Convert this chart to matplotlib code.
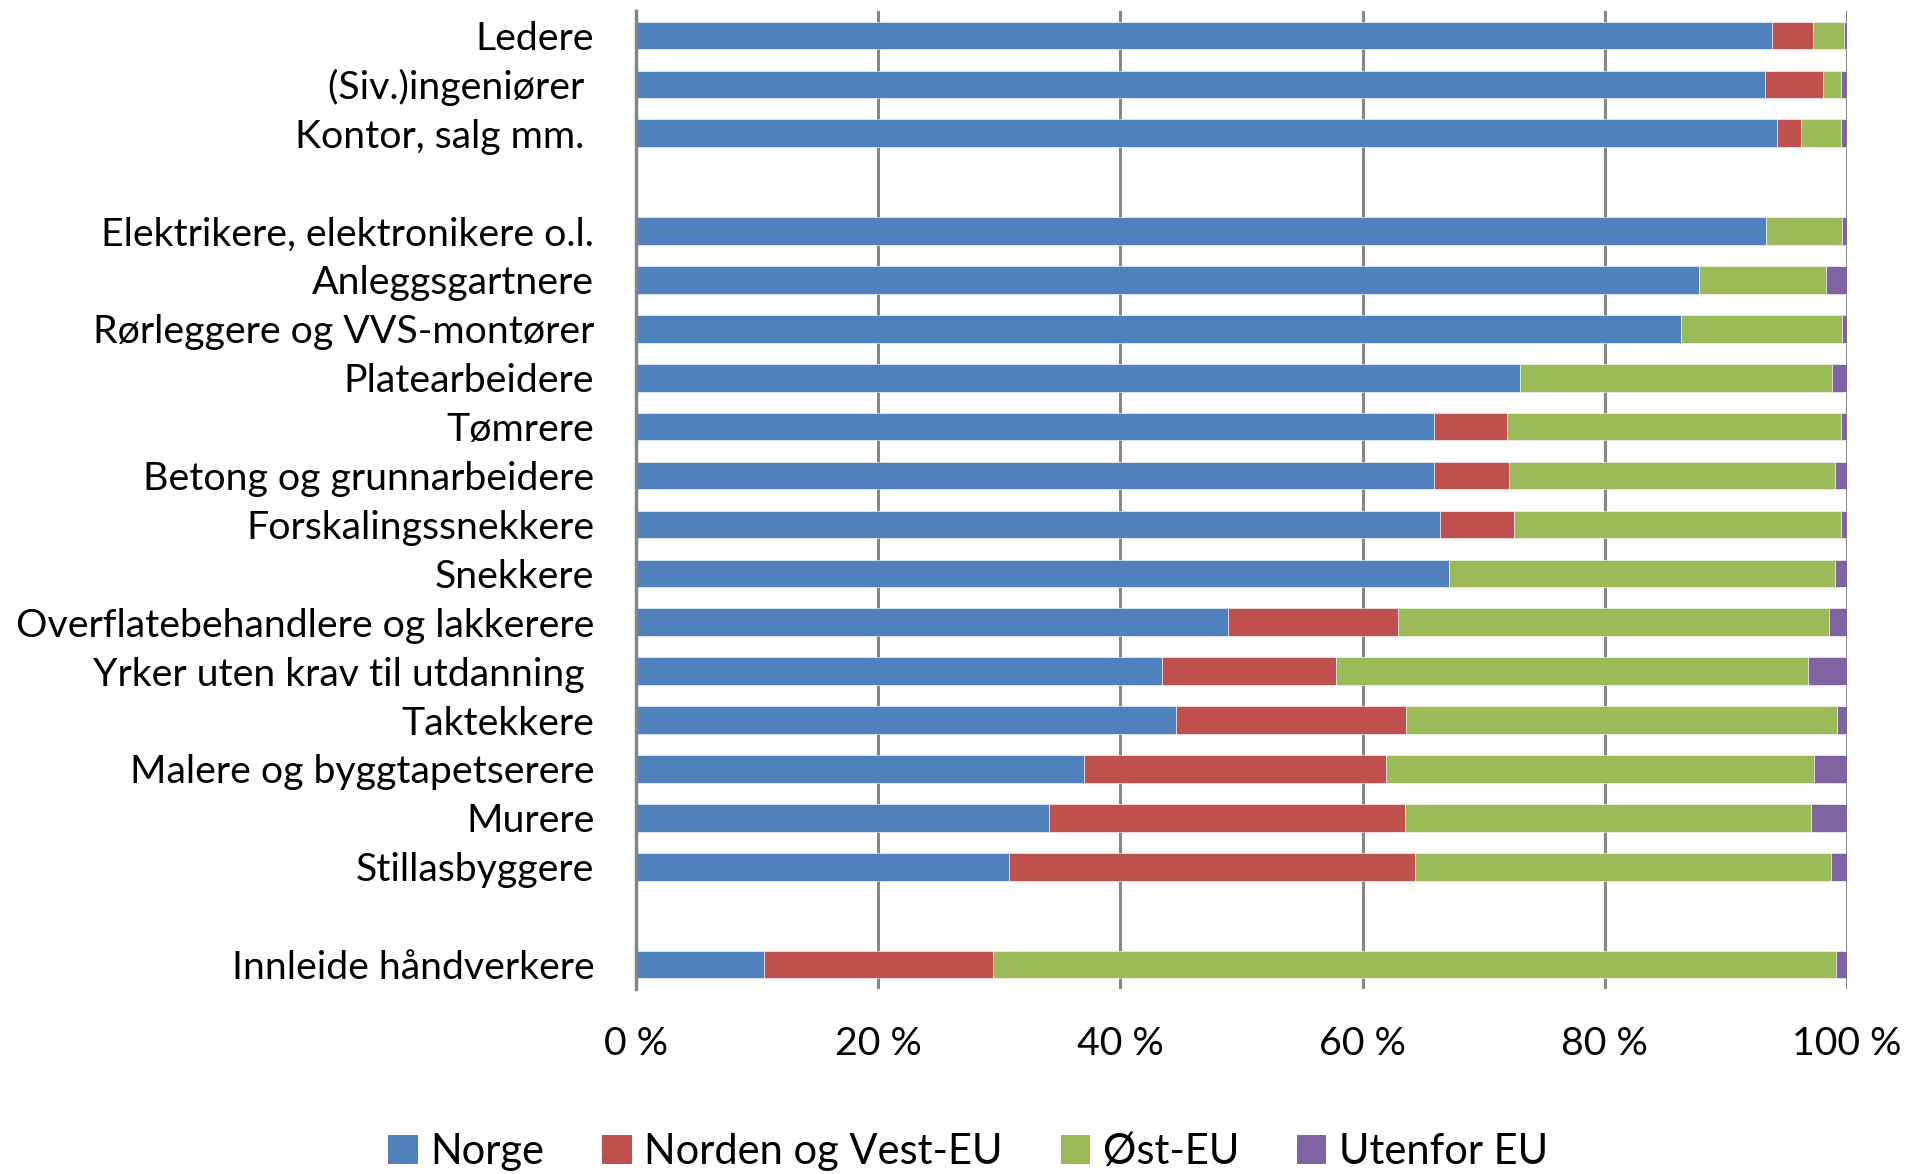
import matplotlib
matplotlib.use("Agg")
import matplotlib.pyplot as plt
from matplotlib.patches import Patch
import numpy as np

plt.rcParams['font.family'] = ['Lato', 'DejaVu Sans']

categories = ["Ledere", "(Siv.)ingeniører ", "Kontor, salg mm. ", "",
              "Elektrikere, elektronikere o.l.", "Anleggsgartnere",
              "Rørleggere og VVS-montører", "Platearbeidere", "Tømrere",
              "Betong og grunnarbeidere", "Forskalingssnekkere", "Snekkere",
              "Overflatebehandlere og lakkerere", "Yrker uten krav til utdanning ",
              "Taktekkere", "Malere og byggtapetserere", "Murere", "Stillasbyggere",
              "", "Innleide håndverkere"]

norge      = [93.8, 93.2, 94.2, 0, 93.3, 87.8, 86.3, 73.0, 65.9, 65.9, 66.4, 67.1,
              48.9, 43.4, 44.6, 37.0, 34.1, 30.8, 0, 10.6]
norden_vest = [3.4, 4.8, 2.0, 0, 0.0, 0.0, 0.0, 0.0, 6.0, 6.2, 6.1, 0.0,
               14.0, 14.4, 19.0, 24.9, 29.4, 33.5, 0, 18.9]
ost_eu     = [2.6, 1.5, 3.3, 0, 6.3, 10.5, 13.3, 25.8, 27.6, 26.9, 27.0, 31.9,
              35.6, 39.0, 35.6, 35.4, 33.5, 34.4, 0, 69.6]
utenfor_eu = [0.2, 0.5, 0.5, 0, 0.4, 1.7, 0.4, 1.2, 0.5, 1.0, 0.5, 1.0,
              1.5, 3.2, 0.8, 2.7, 3.0, 1.3, 0, 0.9]

series = [("Norge", norge, "#4F81BD"),
          ("Norden og Vest-EU", norden_vest, "#C0504D"),
          ("Øst-EU", ost_eu, "#9BBB59"),
          ("Utenfor EU", utenfor_eu, "#8064A2")]
xticks = [0, 20, 40, 60, 80, 100]
xticklabels = ["0 %", "20 %", "40 %", "60 %", "80 %", "100 %"]

fig = plt.figure(figsize=(19.06, 11.74), dpi=100)
ax = fig.add_axes([0.3337, 0.1576, 0.969 - 0.3337, 0.9906 - 0.1576])

y = np.arange(len(categories))
left = np.zeros(len(categories))
handles = []
for name, vals, col in series:
    v = np.array(vals, dtype=float)
    mask = v > 0
    ax.barh(y[mask], v[mask], left=left[mask], height=0.565, color=col,
            edgecolor='white', linewidth=0.4, zorder=3)
    left += v
    handles.append(Patch(facecolor=col, edgecolor='none', label=name))

ax.set_xlim(0, 100)
ax.set_ylim(len(categories) - 0.5, -0.5)
ax.set_yticks(y)
ax.set_yticklabels(categories, fontsize=28.3)
ax.set_xticks(xticks)
ax.set_xticklabels(xticklabels, fontsize=28.3)
ax.tick_params(axis='y', length=0, pad=30)
ax.tick_params(axis='x', length=0, pad=27)
ax.xaxis.grid(True, color='#868686', linewidth=2.2, zorder=0)
for s in ['top', 'right', 'bottom']:
    ax.spines[s].set_visible(False)
ax.spines['left'].set_color('#868686')
ax.spines['left'].set_linewidth(2.5)
ax.spines['left'].set_zorder(4)

fig.legend(handles=handles, loc='center', bbox_to_anchor=(0.508, 0.019), ncol=4,
           frameon=False, fontsize=30, handlelength=0.7, handleheight=0.7,
           handletextpad=0.3, columnspacing=1.4)

fig.savefig("out.png", dpi=100)
